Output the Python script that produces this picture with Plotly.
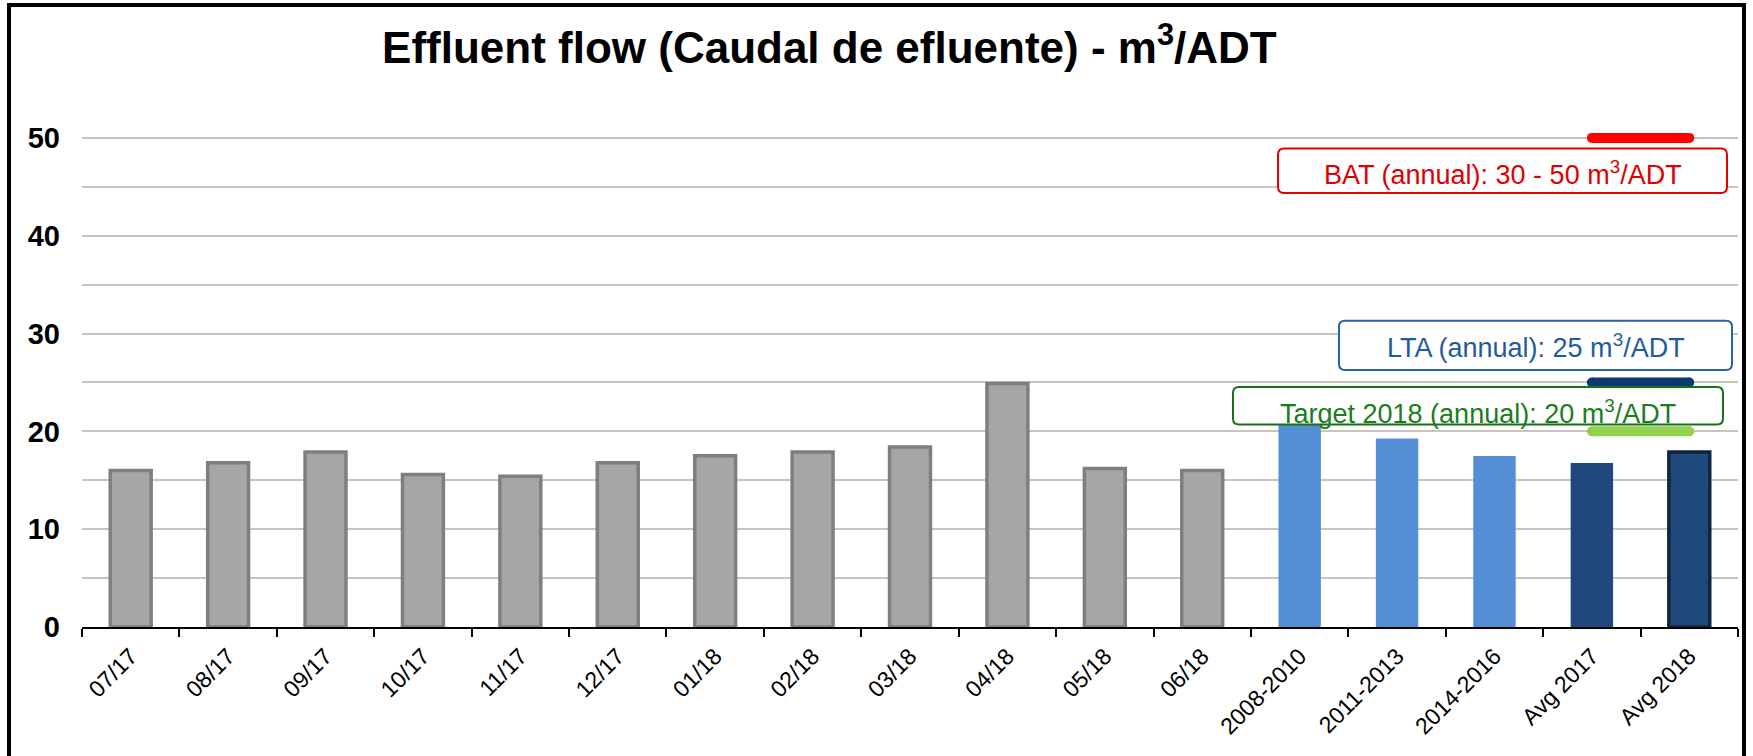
import plotly.graph_objects as go

# ---------------- data ----------------
categories = ["07/17", "08/17", "09/17", "10/17", "11/17", "12/17", "01/18", "02/18",
              "03/18", "04/18", "05/18", "06/18", "2008-2010", "2011-2013", "2014-2016",
              "Avg 2017", "Avg 2018"]
values = [16.0, 16.8, 17.9, 15.6, 15.4, 16.8, 17.5, 17.9, 18.4, 24.9, 16.2, 16.0,
          21.5, 19.2, 17.4, 16.7, 17.9]
fill_colors = ["#A6A6A6"] * 12 + ["#558ED5"] * 3 + ["#1F497D", "#1F497D"]
line_colors = ["#7F7F7F"] * 12 + ["#558ED5"] * 3 + ["#1F497D", "#10253F"]
line_widths = [3.5] * 12 + [1.5] * 3 + [1.5, 3.5]

ref_x = ["Avg 2017", "Avg 2018"]
bat_value = 50
lta_value = 25
target_value = 20

title_text = "<b>Effluent flow (Caudal de efluente) - m<sup>3</sup>/ADT</b>"
bat_label = "BAT (annual): 30 - 50 m<sup>3</sup>/ADT"
lta_label = "LTA (annual): 25 m<sup>3</sup>/ADT"
target_label = "Target 2018 (annual): 20 m<sup>3</sup>/ADT"

# ---------------- layout geometry ----------------
W, H = 1753, 756
L, R, T, B = 82, 15, 89, 129
PW = W - L - R
PH = H - T - B


def px_x(px):
    return (px - L) / PW


def px_y(py):
    return (H - B - py) / PH


def rounded_rect(x0, y0, x1, y1, r=6):
    X0, X1 = px_x(x0), px_x(x1)
    Ytop, Ybot = px_y(y0), px_y(y1)
    rx, ry = r / PW, r / PH
    return (f"M {X0+rx},{Ytop} L {X1-rx},{Ytop} Q {X1},{Ytop} {X1},{Ytop-ry} "
            f"L {X1},{Ybot+ry} Q {X1},{Ybot} {X1-rx},{Ybot} "
            f"L {X0+rx},{Ybot} Q {X0},{Ybot} {X0},{Ybot+ry} "
            f"L {X0},{Ytop-ry} Q {X0},{Ytop} {X0+rx},{Ytop} Z")


FONT = "Arial, Liberation Sans, sans-serif"

fig = go.Figure()
fig.add_trace(go.Bar(
    x=categories, y=values, width=0.42,
    marker=dict(color=fill_colors, line=dict(color=line_colors, width=line_widths)),
    showlegend=False, hoverinfo="x+y",
))

for val, col in [(bat_value, "#FF0000"), (lta_value, "#0B3A6E"), (target_value, "#92D050")]:
    fig.add_trace(go.Scatter(
        x=ref_x, y=[val, val], mode="lines+markers",
        line=dict(color=col, width=10),
        marker=dict(color=col, size=10, line=dict(width=0)),
        showlegend=False, hoverinfo="y",
    ))

boxes = [
    # (x0, y0, x1, y1, text, text_color, border_color, text_center_y)
    (1278, 148.5, 1727, 193, bat_label, "#E00000", "#E00000", 172.5),
    (1339, 320.7, 1732, 370, lta_label, "#1F5C9E", "#2A62A6", 346.3),
    (1233, 387, 1723, 424.5, target_label, "#1B7D1B", "#177017", 412),
]
shapes = []
annotations = []
for x0, y0, x1, y1, txt, tcol, bcol, tcy in boxes:
    shapes.append(dict(type="path", xref="paper", yref="paper", path=rounded_rect(x0, y0, x1, y1),
                       line=dict(color=bcol, width=2), fillcolor="white", layer="above"))
    annotations.append(dict(xref="paper", yref="paper", x=px_x((x0 + x1) / 2), y=px_y(tcy),
                            xanchor="center", yanchor="middle", showarrow=False, text=txt,
                            font=dict(family=FONT, size=27, color=tcol)))

# outer frame
shapes.append(dict(type="rect", xref="paper", yref="paper",
                   x0=px_x(9), x1=px_x(1744), y0=px_y(5), y1=px_y(780),
                   line=dict(color="black", width=4), fillcolor="rgba(0,0,0,0)", layer="above"))

GRID = "#C6C6BE"
fig.update_layout(
    width=W, height=H,
    margin=dict(l=L, r=R, t=T, b=B, pad=0),
    paper_bgcolor="white", plot_bgcolor="white",
    title=dict(text=title_text, x=829.4 / W, xref="container", xanchor="center",
               y=1 - 48 / H, yref="container", yanchor="middle",
               font=dict(family=FONT, size=44, color="black")),
    shapes=shapes, annotations=annotations,
    xaxis=dict(
        type="category", range=[-0.5, len(categories) - 0.5], autorange=False,
        showline=True, linecolor="black", linewidth=1.5,
        ticks="outside", tickson="boundaries", ticklen=8, tickcolor="black", tickwidth=1.5,
        tickangle=-45, tickfont=dict(family=FONT, size=23, color="black"),
        ticklabelstandoff=5,
        showgrid=False, zeroline=False,
    ),
    yaxis=dict(
        range=[0, 55], autorange=False, tick0=0, dtick=10, showline=False, zeroline=False,
        showgrid=True, gridcolor=GRID, gridwidth=1.5,
        minor=dict(tick0=0, dtick=5, showgrid=True, gridcolor=GRID, gridwidth=1.5),
        tickfont=dict(family=FONT, size=29, color="black", weight="bold"),
        ticks="", ticklabelstandoff=21,
    ),
)

fig.write_html("out.html",
               config={"displayModeBar": False},
               post_script="document.body.style.margin='0';document.body.style.overflow='hidden';")
